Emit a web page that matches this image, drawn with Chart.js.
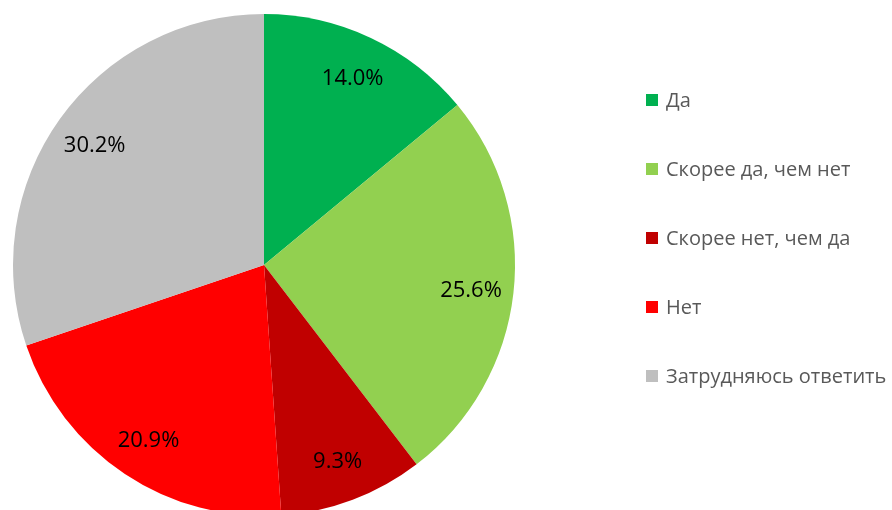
<!DOCTYPE html>
<html lang="ru">
<head>
    <meta charset="UTF-8">
    <title>Круговая диаграмма</title>
    <script src="https://cdn.jsdelivr.net/npm/chart.js"></script>
    <style>
        html, body {
            margin: 0;
            padding: 0;
            background: #fff;
            overflow: hidden;
        }
        #wrap {
            position: relative;
            width: 892px;
            height: 530px;
        }
        #legend {
            position: absolute;
            left: 646px;
            top: 86px;
            font-family: 'Open Sans', sans-serif;
            font-size: 20px;
            color: #595959;
        }
        .item {
            height: 69px;
            display: flex;
            align-items: flex-start;
            white-space: nowrap;
        }
        .box {
            width: 12px;
            height: 12px;
            margin-top: 8px;
            margin-right: 8px;
        }
    </style>
</head>
<body>
<div id="wrap">
    <canvas id="pie" width="892" height="530"></canvas>
    <div id="legend"></div>
</div>
<script>
    // Данные
    const categories = ['Да', 'Скорее да, чем нет', 'Скорее нет, чем да', 'Нет', 'Затрудняюсь ответить'];
    const values = [14.0, 25.6, 9.3, 20.9, 30.2];
    const colors = ['#00B050', '#92D050', '#C00000', '#FF0000', '#BFBFBF'];

    // Легенда
    const legend = document.getElementById('legend');
    categories.forEach((name, i) => {
        const row = document.createElement('div');
        row.className = 'item';
        const box = document.createElement('span');
        box.className = 'box';
        box.style.background = colors[i];
        const txt = document.createElement('span');
        txt.textContent = name;
        row.appendChild(box);
        row.appendChild(txt);
        legend.appendChild(row);
    });

    // Подписи процентов внутри секторов
    const pctLabels = {
        id: 'pctLabels',
        afterDatasetsDraw(chart) {
            const ctx = chart.ctx;
            const meta = chart.getDatasetMeta(0);
            ctx.save();
            ctx.font = '22px "Open Sans", sans-serif';
            ctx.fillStyle = '#000';
            ctx.textAlign = 'center';
            ctx.textBaseline = 'middle';
            meta.data.forEach((arc, i) => {
                const p = arc.getProps(['x', 'y', 'startAngle', 'endAngle', 'outerRadius'], true);
                const mid = (p.startAngle + p.endAngle) / 2;
                const r = p.outerRadius * 0.83;
                ctx.fillText(values[i].toFixed(1) + '%', p.x + Math.cos(mid) * r, p.y + Math.sin(mid) * r + 2);
            });
            ctx.restore();
        }
    };

    new Chart(document.getElementById('pie'), {
        type: 'pie',
        data: {
            labels: categories,
            datasets: [{
                data: values,
                backgroundColor: colors,
                borderWidth: 0
            }]
        },
        options: {
            responsive: false,
            animation: false,
            layout: {
                padding: { left: 12, right: 376, top: 14, bottom: 14 }
            },
            plugins: {
                legend: { display: false },
                tooltip: { enabled: false }
            }
        },
        plugins: [pctLabels]
    });
</script>
</body>
</html>
